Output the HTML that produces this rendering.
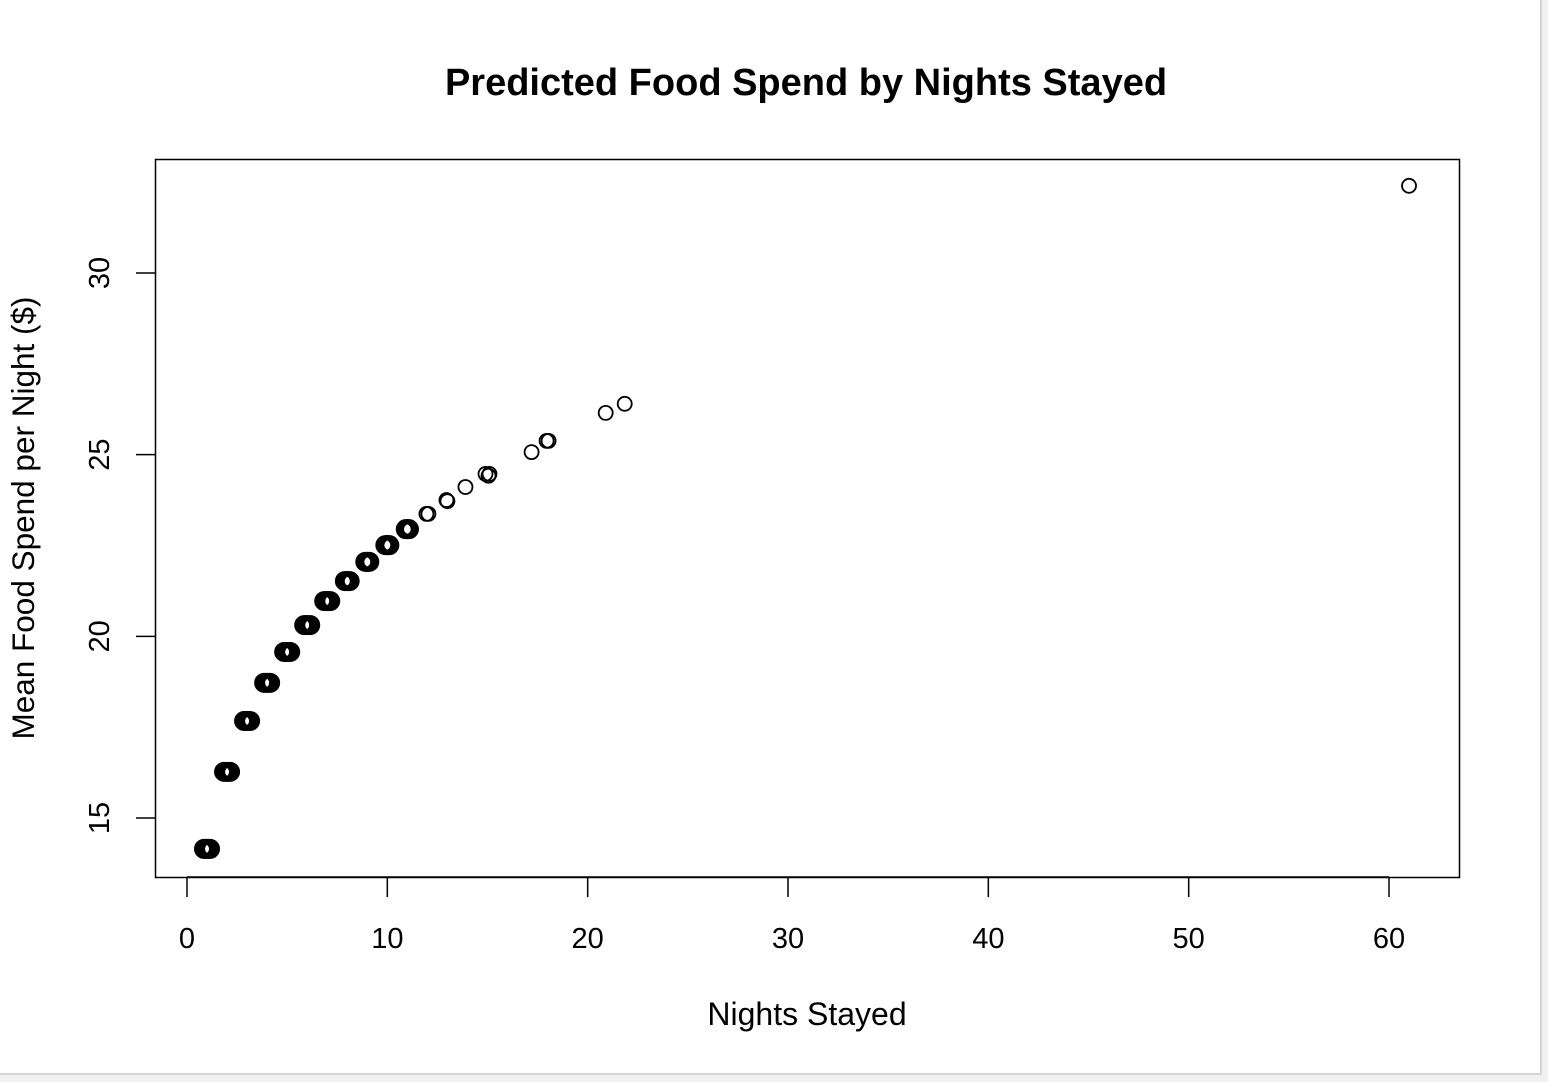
<!DOCTYPE html>
<html><head><meta charset="utf-8"><style>
html,body{margin:0;padding:0;background:#f0f1f3;}
#frame{position:absolute;left:0;top:0;width:1540px;height:1073px;background:#fff;border-right:2px solid #d4d6da;border-bottom:2px solid #d4d6da;}
svg{position:absolute;left:0;top:0;}
text{font-family:"Liberation Sans",Arial,sans-serif;fill:#000;}
</style></head><body>
<div id="frame"></div>
<svg id="chart" width="1548" height="1082"></svg>
<script>
const xTicks=[0,10,20,30,40,50,60];
const yTicks=[15,20,25,30];
const nights=[0.85,0.95,1.05,1.15, 1.85,1.95,2.05,2.15, 2.85,2.95,3.05,3.15, 3.85,3.95,4.05,4.15, 4.85,4.95,5.05,5.15, 5.85,5.95,6.05,6.15, 6.85,6.95,7.05,7.15, 7.88,7.96,8.04,8.12, 8.9,8.97,9.03,9.1, 9.9,9.97,10.03,10.1, 10.92,11.0,11.08, 11.95,12.05, 12.95,13.0, 13.9, 14.9,15.05,15.1, 17.2, 17.95,18.05, 20.9, 21.85, 61.0];
const spend=[14.15,14.15,14.15,14.15, 16.27,16.27,16.27,16.27, 17.67,17.67,17.67,17.67, 18.72,18.72,18.72,18.72, 19.57,19.57,19.57,19.57, 20.31,20.31,20.31,20.31, 20.97,20.97,20.97,20.97, 21.52,21.52,21.52,21.52, 22.05,22.05,22.05,22.05, 22.51,22.51,22.51,22.51, 22.95,22.95,22.95, 23.37,23.37, 23.75,23.72, 24.11, 24.47,24.42,24.47, 25.07, 25.38,25.38, 26.15, 26.40, 32.40];
const NS='http://www.w3.org/2000/svg';
const svg=document.getElementById('chart');
const sx=v=>187+v*(1389-187)/60;
const sy=v=>818-(v-15)*(818-273)/15;
function mk(tag,attrs,parent){const e=document.createElementNS(NS,tag);for(const k in attrs)e.setAttribute(k,attrs[k]);(parent||svg).appendChild(e);return e;}
let t=mk('text',{x:806,y:95,'text-anchor':'middle','font-size':'38','font-weight':'bold'});t.textContent='Predicted Food Spend by Nights Stayed';


let box=mk('rect',{x:155.5,y:159.5,width:1304,height:718,fill:'none',stroke:'#000','stroke-width':1.5});


xTicks.forEach(v=>{
 const l=mk('line',{x1:sx(v),x2:sx(v),y1:877,y2:897,stroke:'#000','stroke-width':1.5});
 
 
 const tx=mk('text',{x:sx(v),y:948,'text-anchor':'middle','font-size':'29'});tx.textContent=v;
 
 
});
mk('line',{x1:sx(0),x2:sx(60),y1:877,y2:877,stroke:'#000','stroke-width':1.5});
yTicks.forEach(v=>{
 const l=mk('line',{x1:136,x2:155,y1:sy(v),y2:sy(v),stroke:'#000','stroke-width':1.5});
 
 
 const tx=mk('text',{x:109,y:sy(v),'text-anchor':'middle','font-size':'29',transform:`rotate(-90 109 ${sy(v)})`});tx.textContent=v;
 
 
});
t=mk('text',{x:807,y:1025,'text-anchor':'middle','font-size':'32'});t.textContent='Nights Stayed';


t=mk('text',{x:34,y:518,'text-anchor':'middle','font-size':'31.5',transform:'rotate(-90 34 518)'});t.textContent='Mean Food Spend per Night ($)';


nights.forEach((n,i)=>{
 const heavy=n<11.5;
 const c=mk('circle',{cx:sx(n),cy:sy(spend[i]),r:heavy?7.5:7,fill:'none',stroke:'#000','stroke-width':heavy?5:1.8});
 
 
});
</script>
</body></html>
